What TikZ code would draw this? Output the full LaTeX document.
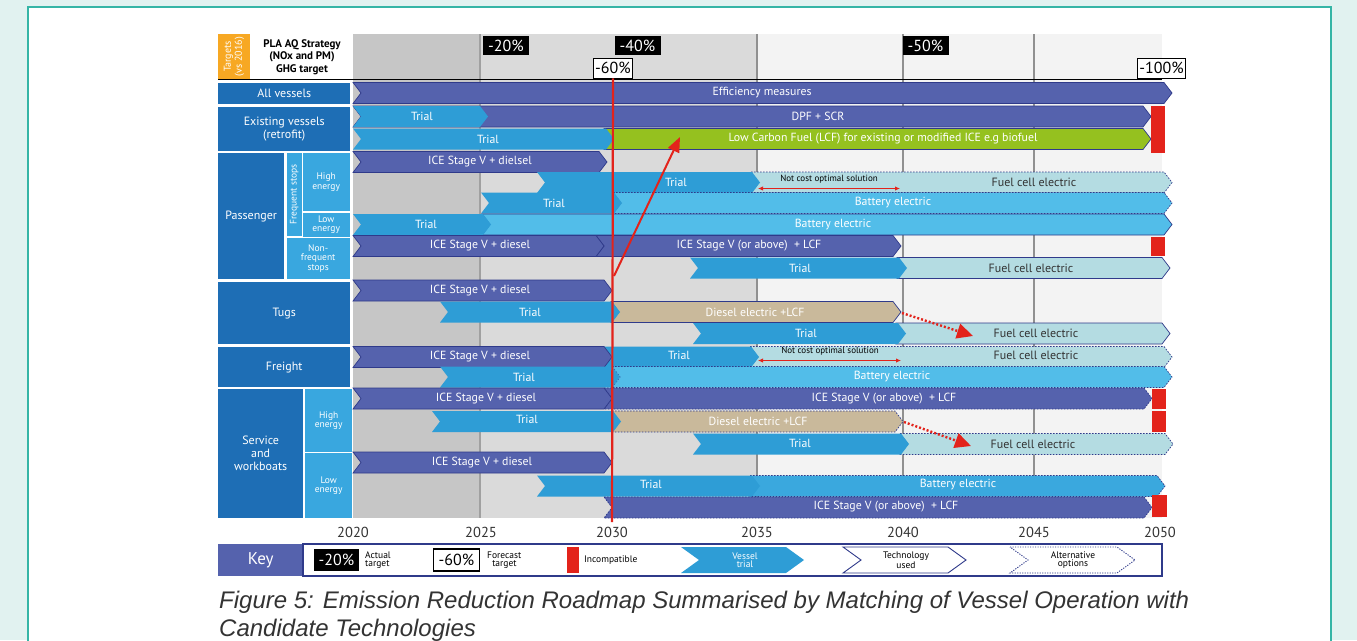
\documentclass[tikz,border=0pt]{standalone}
\usepackage{fontspec}
\setmainfont{PT Sans}
\newfontfamily\capfont{Liberation Sans}
\usetikzlibrary{arrows.meta}
\definecolor{bgteal}{HTML}{E1F2F0}
\definecolor{panelb}{HTML}{35B5A6}
\definecolor{techc}{HTML}{5562AD}
\definecolor{techd}{HTML}{2F3A8A}
\definecolor{trialc}{HTML}{2E9DD6}
\definecolor{battc}{HTML}{52BDE9}
\definecolor{batttwo}{HTML}{3AA8DE}
\definecolor{fuelc}{HTML}{B4DCE2}
\definecolor{greenc}{HTML}{95C11F}
\definecolor{tanc}{HTML}{C9B99B}
\definecolor{redc}{HTML}{E3231B}
\definecolor{labd}{HTML}{1E6EB5}
\definecolor{labl}{HTML}{39A7DF}
\definecolor{orangec}{HTML}{F7A823}
\definecolor{gone}{HTML}{C6C6C6}
\definecolor{gtwo}{HTML}{DADADA}
\definecolor{gthree}{HTML}{F3F3F3}
\definecolor{gridc}{HTML}{A0A0A0}
\definecolor{dtext}{HTML}{333333}
\newsavebox\capbox
\newcommand\bx[4][]{\path[#1] (#2,#4-10.5) -- (#3-8,#4-10.5) -- (#3,#4) -- (#3-8,#4+10.5) -- (#2,#4+10.5) -- (#2+8,#4) -- cycle;}
\newcommand\kbx[3][]{\path[#1] (#2,547) -- (#3-18,547) -- (#3,560) -- (#3-18,573) -- (#2,573) -- (#2+18,560) -- cycle;}
\begin{document}
\sbox\capbox{\color{dtext}\capfont\itshape\fontsize{24}{28}\selectfont Figure 5: Emission Reduction Roadmap Summarised by Matching of Vessel Operation with}%
\pgfmathsetmacro\capsc{970/\the\wd\capbox}%
\begin{tikzpicture}[x=1pt,y=-1pt,
  tech/.style={fill=techc,draw=techd,line width=0.7pt},
  altb/.style={dash pattern=on 1.6pt off 1.4pt},
  trial/.style={fill=trialc},
  batt/.style={fill=battc,draw=techd,line width=0.7pt},
  battb/.style={fill=batttwo,draw=techd,line width=0.7pt},
  fuel/.style={fill=fuelc,draw=techd,line width=0.7pt},
  lcf/.style={fill=greenc,draw=techd,line width=0.7pt},
  tan/.style={fill=tanc,draw=techd,line width=0.7pt},
  bt/.style={text=white,font=\fontsize{11.8}{13}\selectfont,inner sep=0pt},
  dt/.style={text=dtext,font=\fontsize{12}{13}\selectfont,inner sep=0pt},
  nc/.style={text=black,font=\fontsize{9}{10}\selectfont,inner sep=0pt},
  lab/.style={fill=labd,text=white,font=\fontsize{12}{13}\selectfont,align=center,anchor=north west,inner sep=0pt},
  sublab/.style={fill=labl,text=white,font=\fontsize{9.5}{9.5}\selectfont,align=center,anchor=north west,inner sep=0pt},
  tblack/.style={fill=black,text=white,font=\fontsize{16}{16}\selectfont,minimum width=46pt,minimum height=19pt,inner sep=0pt},
  twhite/.style={fill=white,draw=black,line width=0.8pt,text=black,font=\fontsize{16}{16}\selectfont,minimum height=20pt,inner sep=1.5pt},
  yr/.style={text=dtext,font=\fontsize{14.5}{16}\selectfont,inner sep=0pt},
  keyt/.style={font=\fontsize{9.5}{8.5}\selectfont,align=left,inner sep=0pt,anchor=west},
  keyc/.style={font=\fontsize{9.5}{8.5}\selectfont,align=center,inner sep=0pt}
]
\useasboundingbox (0,0) rectangle (1357,640);
\fill[bgteal] (0,0) rectangle (1357,640);
\filldraw[fill=white,draw=panelb,line width=2.5pt] (28,7) rectangle (1331,680);
% background bands
\fill[gone] (353,34) rectangle (480,518);
\fill[gtwo] (480,34) rectangle (757,518);
\fill[gthree] (757,34) rectangle (1162,518);
\draw[gridc,line width=1.8pt] (480,34) -- (480,518);
\foreach \gx in {757,903,1034} \draw[gridc!90!black,line width=1.1pt] (\gx,34) -- (\gx,518);
% header
\fill[orangec] (218,34) rectangle (250,79);
\node[rotate=90,text=white,font=\fontsize{10}{11}\selectfont,align=center,inner sep=0pt] (tgt) at (234,56.5) {Targets\\(vs 2016)};
\fill[white] (251,34) rectangle (353,79);
\node[font=\bfseries\fontsize{11}{12.5}\selectfont,align=center,inner sep=0pt] (pla) at (302,57) {PLA AQ Strategy\\(NOx and PM)\\GHG target};
\draw[black,line width=0.7pt] (218,79.5) -- (1162,79.5);
\node[tblack] (t20) at (506,45.5) {-20\%};
\node[tblack] (t40) at (637.5,45.5) {-40\%};
\node[tblack] (t50) at (925.5,45.5) {-50\%};
% left labels
\node[lab,minimum width=132pt,minimum height=21pt] (allv) at (218,83) {All vessels};
\node[lab,minimum width=132pt,minimum height=44pt] (exist) at (218,106.5) {Existing vessels\\(retrofit)};
\node[lab,minimum width=66pt,minimum height=126pt] (pass) at (218,153) {Passenger};
\node[sublab,minimum width=15pt,minimum height=83pt] (freqbox) at (286.5,153) {};
\node[rotate=90,text=white,font=\fontsize{9.5}{9.5}\selectfont,inner sep=0pt] (freq) at (freqbox.center) {Frequent stops};
\node[sublab,minimum width=47pt,minimum height=58pt] (phigh) at (302.5,153) {High\\energy};
\node[sublab,minimum width=47pt,minimum height=24pt] (plow) at (302.5,212.5) {Low\\energy};
\node[sublab,minimum width=63pt,minimum height=41pt] (nonf) at (286.5,237.5) {Non-\\frequent\\stops};
\node[lab,minimum width=132pt,minimum height=62pt] (tugs) at (218,282) {Tugs};
\node[lab,minimum width=132pt,minimum height=40pt] (freight) at (218,347) {Freight};
\node[lab,minimum width=85pt,minimum height=129pt] (serv) at (218,389) {Service\\and\\workboats};
\node[sublab,minimum width=47pt,minimum height=63pt] (shigh) at (305,389) {High\\energy};
\node[sublab,minimum width=47pt,minimum height=65pt] (slow) at (305,453) {Low\\energy};
% row 1
\bx[tech]{353}{1172}{93}
\node[bt] (eff) at (762,93) {Efficiency measures};
% row 2
\bx[tech]{353}{1151}{116.5}
\bx[trial]{353}{488}{116.5}
\node[bt] (r2t) at (422,116.5) {Trial};
\node[bt] (dpf) at (818,116.5) {DPF + SCR};
% row 3
\bx[lcf]{604}{1151}{139}
\bx[trial]{353}{614}{139}
\node[bt] (r3t) at (488,139) {Trial};
\node[bt] (lcft) at (883,139) {Low Carbon Fuel (LCF) for existing or modified ICE e.g biofuel};
% row 4
\bx[tech]{353}{607}{162}
\node[bt] (r4) at (480,162) {ICE Stage V + dielsel};
% row 5
\bx[fuel,altb]{751}{1172}{182.5}
\bx[trial]{537}{760}{182.5}
\node[bt] (r5t) at (676,182.5) {Trial};
\node[dt] (r5f) at (1034,182.5) {Fuel cell electric};
\node[nc] (nco1) at (829,179) {Not cost optimal solution};
\coordinate (nca1) at (758,188.5);
\coordinate (ncb1) at (900,188.5);
\draw[redc,line width=0.9pt,{Latex[length=5pt,width=4.5pt]}-{Latex[length=5pt,width=4.5pt]}] (nca1) -- (ncb1);
% row 6
\bx[batt,altb]{613}{1172}{203}
\bx[trial]{481}{622}{203}
\node[bt] (r6t) at (554,203) {Trial};
\node[bt] (r6b) at (893,203) {Battery electric};
% row 7
\bx[batt]{482}{1172}{224.5}
\bx[trial]{353}{491}{224.5}
\node[bt] (r7t) at (426,224.5) {Trial};
\node[bt] (r7b) at (833,224.5) {Battery electric};
% row 8
\bx[tech]{596}{901}{246}
\bx[tech]{353}{604}{246}
\node[bt] (r8a) at (480,246) {ICE Stage V + diesel};
\node[bt] (r8b) at (749,246) {ICE Stage V (or above)\ \ + LCF};
% row 9
\bx[fuel]{897}{1170}{268}
\bx[trial]{690}{907}{268}
\node[bt] (r9t) at (800,268) {Trial};
\node[dt] (r9f) at (1031,268) {Fuel cell electric};
% row 10
\bx[tech]{353}{612}{290.5}
\node[bt] (r10) at (480,290.5) {ICE Stage V + diesel};
% row 11
\bx[tan]{611}{901}{312}
\bx[trial]{440}{620}{312}
\node[bt] (r11t) at (530,312) {Trial};
\node[bt] (r11d) at (755,312) {Diesel electric +LCF};
% row 12
\bx[fuel]{896}{1170}{333.5}
\bx[trial]{693}{906}{333.5}
\node[bt] (r12t) at (806,333.5) {Trial};
\node[dt] (r12f) at (1036,333.5) {Fuel cell electric};
% row 13
\bx[fuel,altb]{750}{1172}{357}
\bx[trial]{604}{759}{357}
\bx[tech]{353}{612}{357}
\node[bt] (r13a) at (480,357) {ICE Stage V + diesel};
\node[bt] (r13t) at (679,355) {Trial};
\node[dt] (r13f) at (1036,355) {Fuel cell electric};
\node[nc] (nco2) at (830,351.5) {Not cost optimal solution};
\coordinate (nca2) at (758,360.5);
\coordinate (ncb2) at (901,360.5);
\draw[redc,line width=0.9pt,{Latex[length=5pt,width=4.5pt]}-{Latex[length=5pt,width=4.5pt]}] (nca2) -- (ncb2);
% row 14
\bx[batt,altb]{612}{1172}{377}
\bx[trial]{440}{620}{377}
\node[bt] (r14t) at (524,377) {Trial};
\node[bt] (r14b) at (892,377) {Battery electric};
% row 15
\bx[tech,altb]{604}{1152}{398.5}
\bx[tech]{353}{612}{398.5}
\node[bt] (r15a) at (486,398.5) {ICE Stage V + diesel};
\node[bt] (r15b) at (884,398.5) {ICE Stage V (or above)\ \ + LCF};
% row 16
\bx[tan,altb]{612}{903}{421.5}
\bx[trial]{432}{621}{421.5}
\node[bt] (r16t) at (527,419) {Trial};
\node[bt] (r16d) at (758,421.5) {Diesel electric +LCF};
% row 17
\bx[fuel,altb]{900}{1173}{444}
\bx[trial]{693}{909}{444}
\node[bt] (r17t) at (800,443) {Trial};
\node[dt] (r17f) at (1033,444) {Fuel cell electric};
% row 18
\bx[tech]{353}{612}{462.5}
\node[bt] (r18) at (482,462.5) {ICE Stage V + diesel};
% row 19
\bx[battb,altb]{750}{1165}{486}
\bx[trial]{537}{760}{486}
\node[bt] (r19t) at (651,484) {Trial};
\node[bt] (r19b) at (958,485) {Battery electric};
% row 20
\bx[tech,altb]{604}{1152}{507.5}
\node[bt] (r20) at (886,507) {ICE Stage V (or above)\ \ + LCF};
% incompatible boxes
\fill[redc] (1151,106) rectangle (1165,153);
\fill[redc] (1151,237) rectangle (1165,256);
\fill[redc] (1152,389) rectangle (1166,409);
\fill[redc] (1152,411) rectangle (1166,432);
\fill[redc] (1152,495) rectangle (1167,517);
% dotted transitions
\coordinate (tanA) at (902,313);
\coordinate (fcA) at (973,336);
\draw[redc,line width=2.4pt,dash pattern=on 2pt off 2pt,-{Triangle[length=16pt,width=15pt]}] (tanA) -- (fcA);
\coordinate (tanB) at (904,422);
\coordinate (fcB) at (971,446);
\draw[redc,line width=2.4pt,dash pattern=on 2pt off 2pt,-{Triangle[length=16pt,width=15pt]}] (tanB) -- (fcB);
% forecast targets and 2030 line
\node[twhite] (t60) at (613,68) {-60\%};
\node[twhite] (t100) at (1161.5,68) {-100\%};
\coordinate (lineB) at (612,522);
\draw[redc,line width=2.2pt] (t60.south) -- (lineB);
\coordinate (arrS) at (614,276);
\coordinate (arrE) at (680,137);
\draw[redc,line width=2pt,-{Triangle[length=15pt,width=12pt]}] (arrS) -- (arrE);
% years
\foreach \yx/\yl in {353/2020,481/2025,612/2030,757/2035,903/2040,1034/2045,1160/2050}
  \node[yr] (y\yl) at (\yx,532) {\yl};
% key
\node[fill=techc,text=white,font=\fontsize{17}{18}\selectfont,minimum width=85pt,minimum height=32pt,inner sep=0pt,anchor=north west] (key) at (218,544) {Key};
\draw[techd,line width=1.1pt,fill=white] (303,544) rectangle (1162,576);
\node[tblack,minimum width=45pt,minimum height=22pt] (k20) at (336.5,560) {-20\%};
\node[keyt] (k20t) at (365,560) {Actual\\target};
\node[twhite,minimum width=46pt,minimum height=22pt,line width=1.3pt] (k60) at (456.5,560) {-60\%};
\node[keyt] (k60t) at (487,560) {Forecast\\\ \ target};
\fill[redc] (567,547) rectangle (579,573);
\node[keyt] (kinc) at (584,560) {Incompatible};
\kbx[trial]{681}{804}
\node[keyc,text=white] (ktr) at (745,560) {Vessel\\trial};
\kbx[draw=techd,fill=white,line width=0.9pt]{843}{966}
\node[keyc] (ktu) at (906,560) {Technology\\used};
\kbx[draw=techd,fill=white,line width=0.9pt,dash pattern=on 1.2pt off 1.3pt]{1010}{1135}
\node[keyc] (kalt) at (1073,560) {Alternative\\options};
% caption
\node[anchor=base west,inner sep=0pt,text=dtext] (cap1) at (219,608) {\scalebox{\capsc}[1]{\usebox\capbox}};
\node[anchor=base west,inner sep=0pt,text=dtext] (cap2) at (219,636) {\scalebox{\capsc}[1]{\capfont\itshape\fontsize{24}{28}\selectfont Candidate Technologies}};
\end{tikzpicture}
\end{document}
